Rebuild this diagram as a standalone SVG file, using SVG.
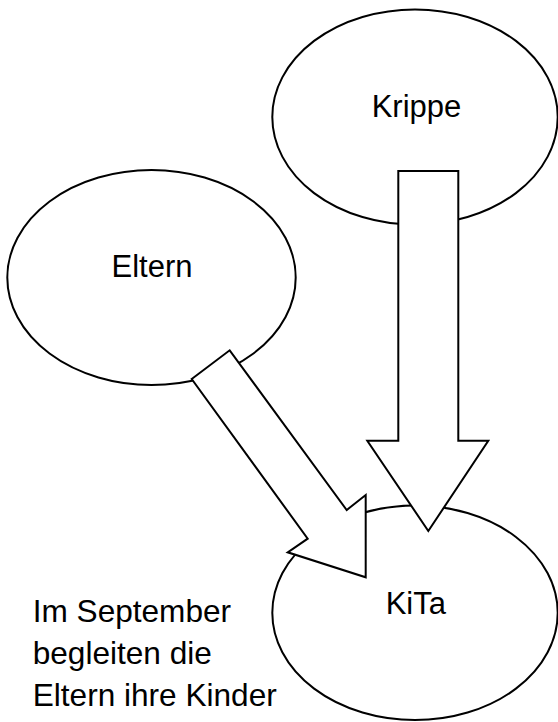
<svg xmlns="http://www.w3.org/2000/svg" width="558" height="722" viewBox="0 0 558 722">
<style>
.shape{fill:#ffffff;stroke:#000000;stroke-width:2;stroke-linejoin:miter}
.lbl{font-family:"Liberation Sans",Arial,sans-serif;font-size:31px;fill:#000000}
.note{font-size:31.6px}
</style>
<rect x="0" y="0" width="558" height="722" fill="#ffffff"/>
<g id="krippe">
<ellipse class="shape" cx="415" cy="117" rx="142.7" ry="107.6"/>
<text class="lbl" x="416.5" y="116.5" text-anchor="middle">Krippe</text>
</g>
<g id="eltern">
<ellipse class="shape" cx="151.5" cy="277.5" rx="144.2" ry="107.5"/>
<text class="lbl" x="152" y="276.7" text-anchor="middle">Eltern</text>
</g>
<g id="kita">
<ellipse class="shape" cx="415" cy="612.8" rx="142.7" ry="107.3"/>
<text class="lbl" x="415.8" y="614" text-anchor="middle">KiTa</text>
</g>
<g id="connectors">
<polygon class="shape" points="398.3,171 458.3,171 458.3,440.7 488.3,440.7 428.3,531 367.3,440.7 398.3,440.7"/>
<polygon class="shape" points="191.7,379 229.7,350.3 346.7,510 365.7,495 365.7,577.3 287.7,552.3 307.7,538.7"/>
</g>
<g id="note">
<text class="lbl note" x="32.7" y="622">Im September</text>
<text class="lbl note" x="32.7" y="664">begleiten die</text>
<text class="lbl note" x="32.7" y="706">Eltern ihre Kinder</text>
</g>
</svg>
